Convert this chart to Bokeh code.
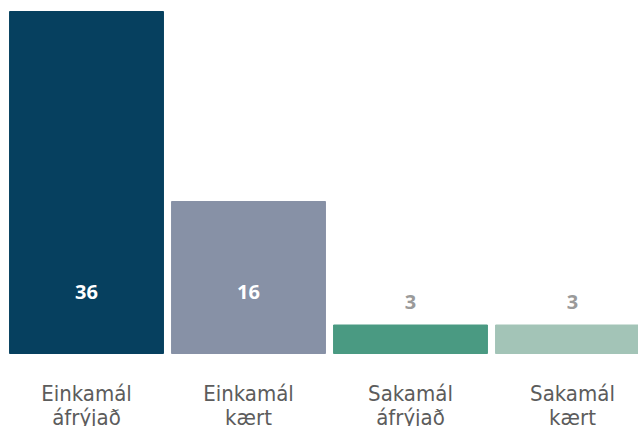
from bokeh.plotting import figure
from bokeh.models import Range1d, ColumnDataSource
from bokeh.core.properties import value
from bokeh.embed import file_html
from bokeh.resources import INLINE

line1 = ["Einkamál", "Einkamál", "Sakamál", "Sakamál"]
line2 = ["áfrýjað", "kært", "áfrýjað", "kært"]
counts = [36, 16, 3, 3]
colors = ["#06405f", "#8791a6", "#4a9a82", "#a3c4b7"]

xs = list(range(len(counts)))

p = figure(width=638, height=426, output_backend="svg", toolbar_location=None,
           x_range=Range1d(-0.5309, 3.4074), y_range=Range1d(-7.684, 37.158),
           min_border=0, outline_line_color=None, background_fill_color="white")
p.axis.visible = False
p.grid.visible = False

src = ColumnDataSource(dict(x=xs, top=counts, color=colors, l1=line1, l2=line2))
p.vbar(x="x", top="top", width=0.95, bottom=0, color="color", source=src)

# value labels: inside near base for tall bars, above the bar for short ones
ins = ColumnDataSource(dict(x=[x for x, c in zip(xs, counts) if c >= 10],
                            y=[0 for c in counts if c >= 10],
                            t=[str(c) for c in counts if c >= 10]))
out = ColumnDataSource(dict(x=[x for x, c in zip(xs, counts) if c < 10],
                            y=[c for c in counts if c < 10],
                            t=[str(c) for c in counts if c < 10]))
p.text(x="x", y="y", text="t", source=ins, y_offset=-62, text_align="center",
       text_baseline="middle", text_color="white", text_font=value("Open Sans"),
       text_font_style="bold", text_font_size="20px")
p.text(x="x", y="y", text="t", source=out, y_offset=-23, text_align="center",
       text_baseline="middle", text_color="#9a9a9a", text_font=value("Open Sans"),
       text_font_style="bold", text_font_size="20px")

p.text(x="x", y=0, text="l1", source=src, y_offset=40, text_align="center",
       text_baseline="alphabetic", text_color="#5c5c5c",
       text_font=value("DejaVu Sans Condensed"), text_font_size="22px")
p.text(x="x", y=0, text="l2", source=src, y_offset=64, text_align="center",
       text_baseline="alphabetic", text_color="#5c5c5c",
       text_font=value("DejaVu Sans Condensed"), text_font_size="22px")

open("out.html", "w").write(file_html(p, INLINE))
